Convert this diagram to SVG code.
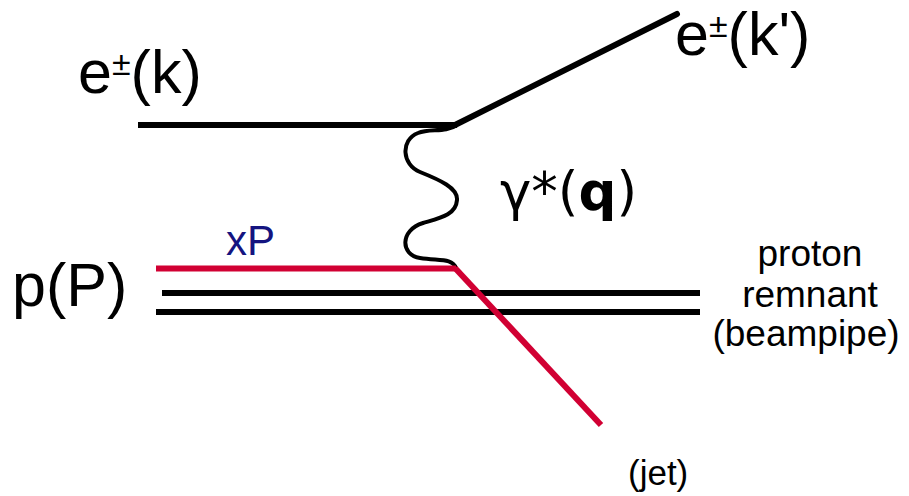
<svg xmlns="http://www.w3.org/2000/svg" width="909" height="496" viewBox="0 0 909 496">
<style>
.lbl{font-family:"Liberation Sans",Arial,sans-serif;fill:#000}
.big{font-size:61px}
.sm{font-size:37px}
.blk{stroke:#000;stroke-width:6;fill:none}
.red{stroke:#d10033;stroke-width:6;fill:none}
.wave{stroke:#000;stroke-width:4;fill:none}
</style>
<rect width="909" height="496" fill="#fff"/>
<g id="connectors">
<line class="blk" x1="138" y1="125" x2="457" y2="125"/>
<line class="blk" x1="455" y1="125" x2="677" y2="14" stroke-linecap="round"/>
<path class="wave" d="M457,125 C445,133 430,128 418,133 C400,140 402,165 420,172 C440,180 458,188 457,200 C456,215 440,218 423,223 C400,230 400,255 420,258 C440,261 452,258 456,268"/>
<line class="blk" x1="162" y1="293" x2="700" y2="293"/>
<line class="blk" x1="156" y1="312" x2="700" y2="312"/>
<line class="red" x1="156" y1="268.5" x2="456" y2="268.5"/>
<line class="red" x1="455" y1="268" x2="601" y2="425"/>
</g>
<g id="e-in"><text class="lbl big" x="78" y="93">e<tspan font-size="34" dy="-18">±</tspan><tspan dy="18">(k)</tspan></text></g>
<g id="e-out"><text class="lbl big" x="675" y="55">e<tspan font-size="34" dy="-18">±</tspan><tspan dy="18">(k')</tspan></text></g>
<g id="photon"><text x="500" y="210" font-family="DejaVu Sans,sans-serif" font-size="53">γ*(<tspan font-weight="bold">q</tspan>)</text></g>
<g id="proton"><text class="lbl big" x="12" y="306">p(P)</text></g>
<g id="parton"><text class="lbl" x="226" y="255" font-size="42" style="fill:#141480">xP</text></g>
<g id="remnant">
<text class="lbl sm" x="810" y="266" text-anchor="middle">proton</text>
<text class="lbl sm" x="810" y="307" text-anchor="middle">remnant</text>
<text class="lbl sm" x="806" y="346" text-anchor="middle">(beampipe)</text>
</g>
<g id="jet"><text class="lbl" x="628" y="485" font-size="35">(jet)</text></g>
</svg>
